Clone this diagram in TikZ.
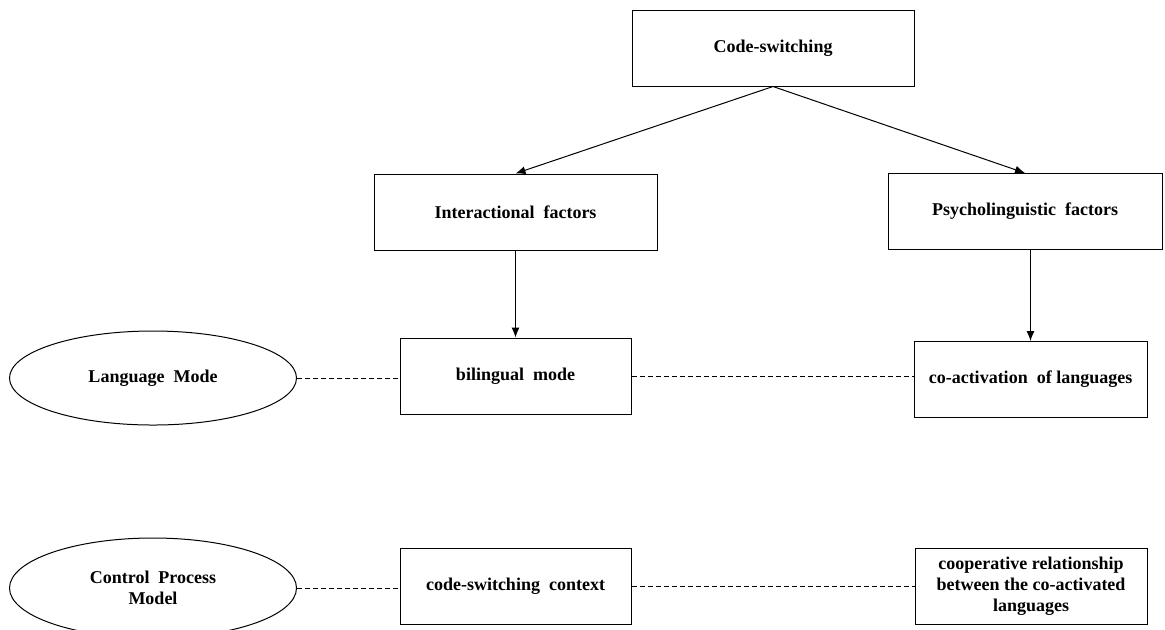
\documentclass[tikz,border=0pt]{standalone}
\usepackage{fontspec}
\setmainfont{Liberation Serif}
\usetikzlibrary{arrows.meta,shapes.geometric}

\begin{document}
\begin{tikzpicture}[x=0.5pt,y=0.5pt]
\tikzstyle{every node}+=[font=\bfseries\fontsize{9}{10.5}\selectfont, align=center, inner sep=0pt]
\tikzstyle{box}=[draw, line width=0.5pt, minimum width=115.5pt, minimum height=38pt]
\tikzstyle{model}=[draw, ellipse, line width=0.5pt, minimum width=143.5pt, minimum height=47pt]
\tikzstyle{link}=[line width=0.5pt, -{Latex[length=5pt,width=4pt]}]
\tikzstyle{tie}=[line width=0.5pt, dash pattern=on 2.5pt off 1.5pt]
\useasboundingbox (0,0) rectangle (1165,-629);
\node [box, minimum width=141pt] (cs) at (773,-48) {Code-switching};
\node [box, minimum width=141.5pt] (inter) at (515.5,-212) {Interactional\ \ factors};
\node [box, minimum width=137pt] (psy) at (1025,-211.5) {Psycholinguistic\ \ factors};
\node [box] (bil) at (515.5,-376) {bilingual\ \ mode};
\node [box, minimum width=116.5pt] (coact) at (1030.5,-379.5) {co-activation\ \ of languages};
\node [box] (ctx) at (515.5,-586) {code-switching\ \ context};
\node [box, minimum width=116pt] (coop) at (1031,-586) {cooperative relationship\\between the co-activated\\languages};
\node [model] (lm) at (153,-378) {Language\ \ Mode};
\node [model, minimum height=50pt] (cpm) at (153,-588) {Control\ \ Process\\Model};
\draw [link] (cs.south) -- (inter.north);
\draw [link] (cs.south) -- (psy.north);
\draw [link] (inter.south) -- (bil.north);
\draw [link] (coact.north |- psy.south) -- (coact.north);
\draw [tie] (lm.east) -- (lm.east -| bil.west);
\draw [tie] (bil.east) -- (bil.east -| coact.west);
\draw [tie] (cpm.east) -- (cpm.east -| ctx.west);
\draw [tie] (ctx.east) -- (ctx.east -| coop.west);
\end{tikzpicture}
\end{document}
